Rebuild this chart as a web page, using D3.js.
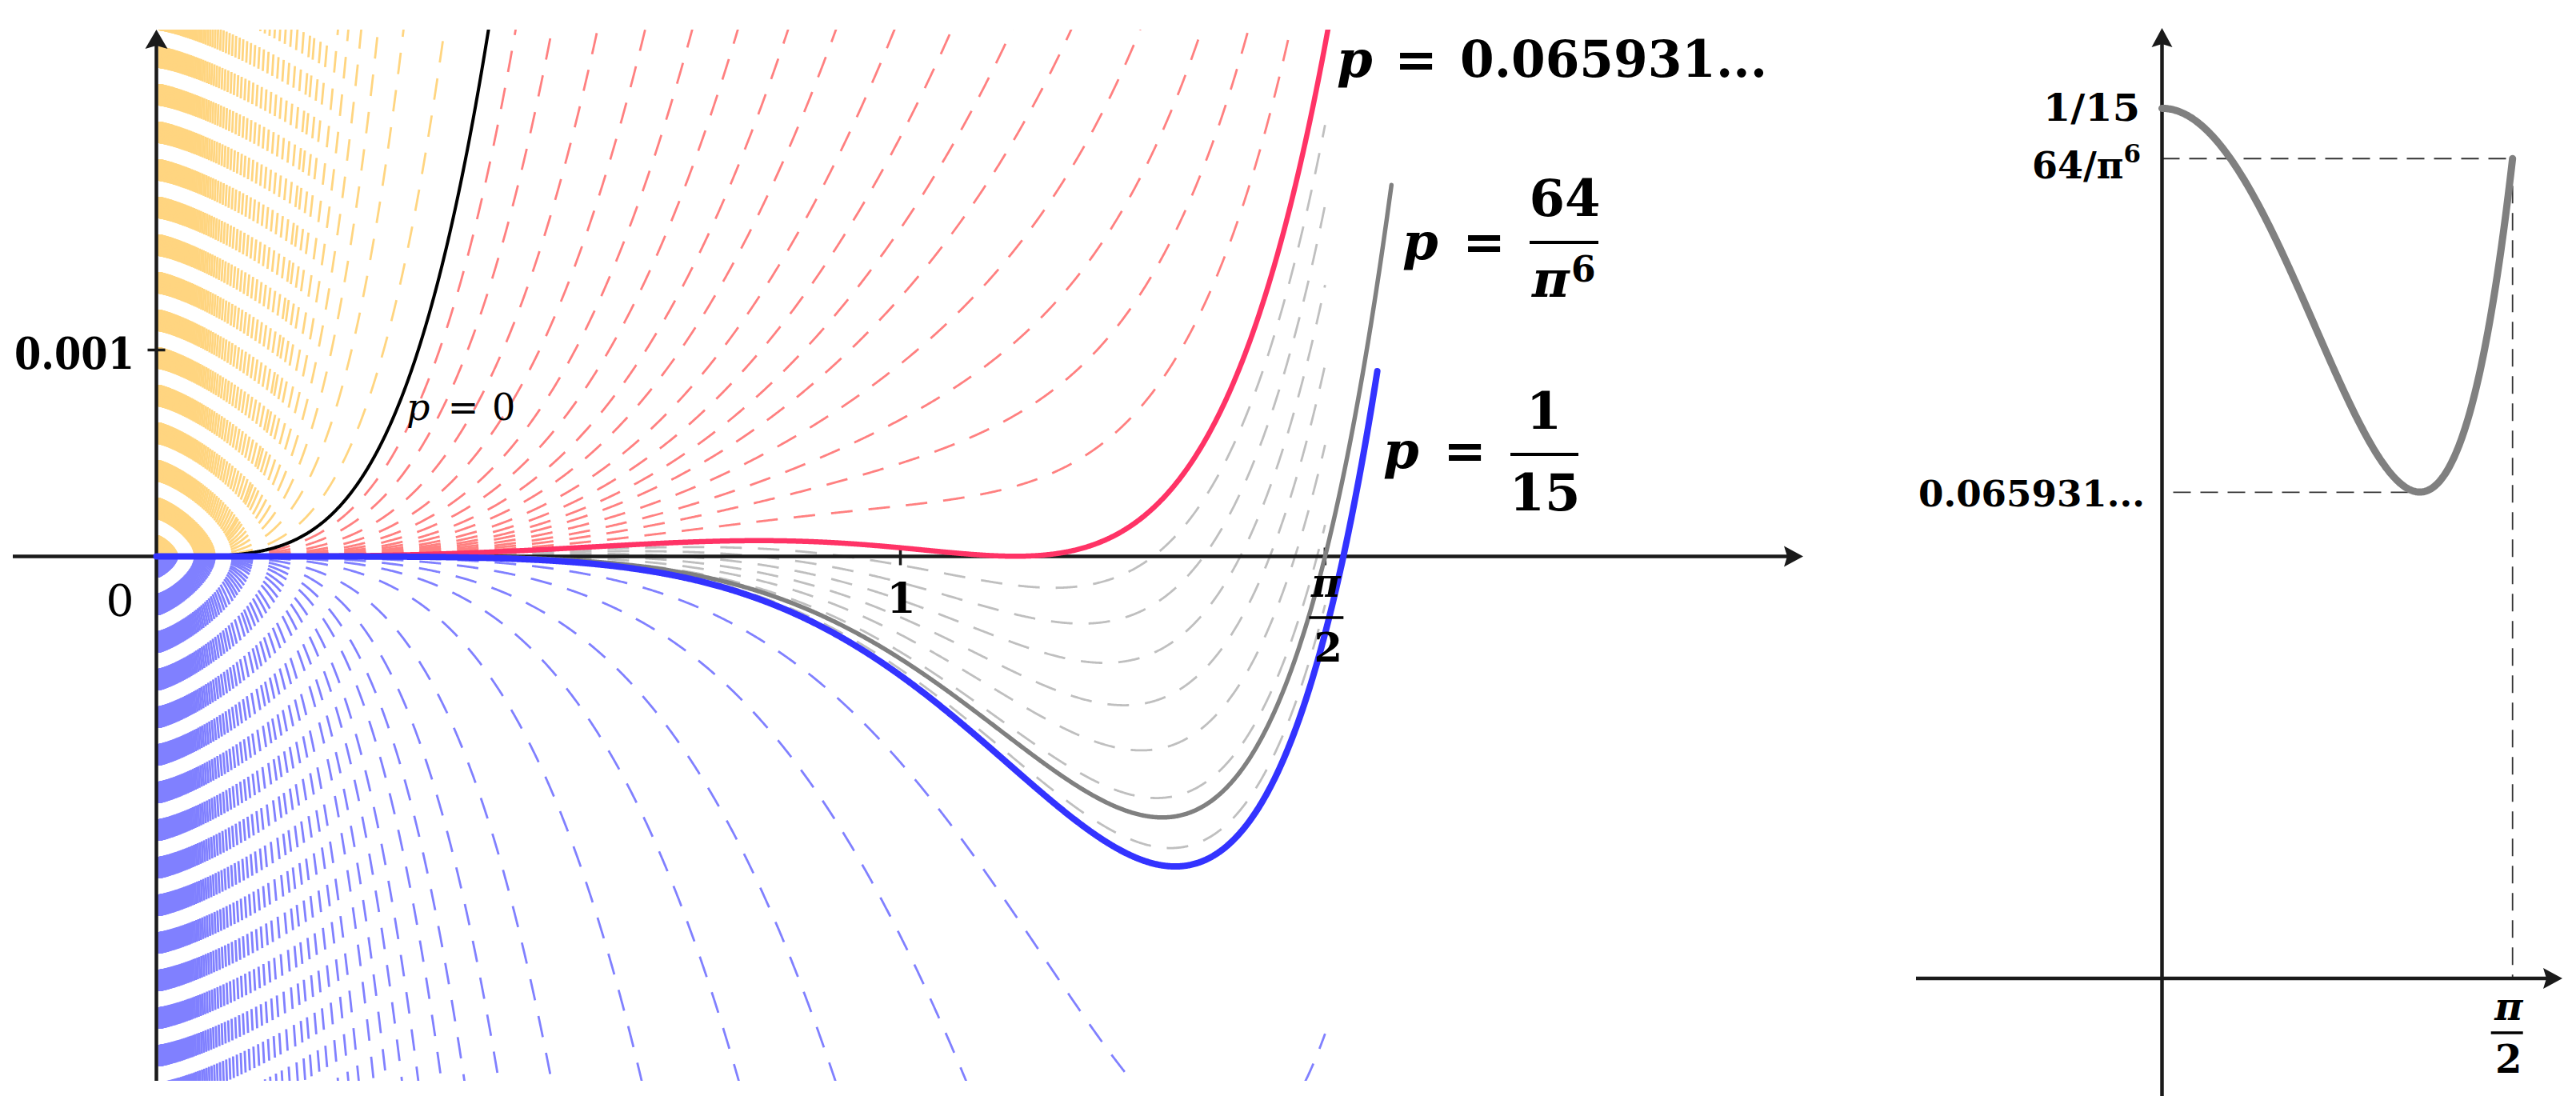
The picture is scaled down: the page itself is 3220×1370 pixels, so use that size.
<!DOCTYPE html>
<html><head><meta charset="utf-8">
<script src="https://cdn.jsdelivr.net/npm/d3@7"></script>
<style>body{margin:0;background:#fff}svg{display:block}</style>
</head><body>
<svg id="c" width="3220" height="1370"></svg>
<script>
// ---------------- data (parameter values p) ----------------
const yellowP = [-0.050,-0.147,-0.262,-0.383,-0.516,-0.660,-0.838,-0.992,-1.18,-1.33,-1.60,-1.92,-2.30,-2.75,-3.28,-3.92,-4.68,-5.58,-6.65,-7.93,-9.45,-11.2,-13.4,-15.9,-19.0,-22.6,-26.9,-32.0,-38.1,-45.4,-54.0,-64.3,-76.6,-91.1,-108,-129,-154,-183,-218,-259,-308,-367,-437,-520,-619,-736,-876,-1040,-1240,-1480,-1760,-2090,-2490,-2960,-3530,-4200,-5000,-5950,-7080,-8420,-10000,-11900,-14200,-16900,-20100,-23900,-28500,-33900,-40300,-48000,-57100,-67900,-80800,-96200,-114000,-136000,-162000,-193000,-229000,-273000,-325000,-387000,-460000,-547000,-651000,-775000,-923000,-1100000,-1310000,-1550000,-1850000,-2200000,-2620000,-3120000,-3710000,-4410000,-5250000,-6250000,-7440000,-8850000,-10500000];
const redP = [0.017614,0.032893,0.044424,0.051535,0.055856,0.058565,0.060540,0.061810,0.062863,0.063565,0.064094,0.064489,0.064873,0.065193,0.065445,0.065690];
const grayP = [0.066031,0.066131,0.066231,0.066331,0.066431,0.066531,0.066631];
const blueP = [0.067167,0.068167,0.070267,0.073667,0.081367,0.0999,0.1252,0.1555,0.1874,0.2355,0.2847,0.3497,0.4207,0.5367,0.6467,0.7907,0.9667,1.160,1.408,1.665,2.028,2.553,3.180,3.847,4.702,5.68,6.87,8.31,10.1,12.2,14.7,17.8,21.6,26.1,31.6,38.2,46.2,55.9,67.6,81.8,99.0,120,145,175,212,256,310,375,454,549,664,804,973,1180,1420,1720,2080,2520,3050,3690,4460,5400,6530,7900,9560,11600,14000,16900,20500,24800,30000,36300,43900,53100,64300,77800,94100,114000,138000,167000,202000,244000,295000,357000,432000,523000,633000,766000,927000,1120000,1360000,1640000,1990000,2400000,2910000,3520000,4260000,5150000,6230000,7540000,9130000,11000000];
const solidP = [0, 0.065931, 64/Math.pow(Math.PI,6), 1/15];
const solidEnd = [Math.PI/2, 1.6, 1.66, 1.641];
const pMin = 0.065931, xMin = 1.158;
const leftXTicks = [1, Math.PI/2];
const leftYTick = 0.001;

// ---------------- helpers ----------------
const svg = d3.select('#c');
const FONT = "'DejaVu Serif', serif";
function F(t){ if(t===0) return 0; if(t<0.01){const t2=t*t; return t2*t2*(1/15-0.0121693*t2);} const s=Math.sin(t)/t; return s*s*s-Math.cos(t); }
function G(t){ return t*t*t*Math.sin(t); }
function fp(t,p){ return F(t)-p*G(t); }
function g(t){ return t===0 ? 1/15 : F(t)/G(t); }

// ---------------- left panel ----------------
const x = d3.scaleLinear().domain([0,1]).range([195.5,1125.5]);
const y = d3.scaleLinear().domain([0,0.001]).range([695.5,437.5]);
const yTop = y.invert(37), yBot = y.invert(1351);

svg.append('defs').append('clipPath').attr('id','clipL')
  .append('rect').attr('x',150).attr('y',37).attr('width',2150).attr('height',1351-37);

function samples(end){
  const xs=[]; const N=1600;
  for(let i=0;i<=N;i++) xs.push(end*i/N);
  for(let i=1;i<=500;i++) xs.push(0.08*Math.pow(i/500,2));
  return Array.from(new Set(xs)).filter(v=>v<=end).sort((a,b)=>a-b);
}
function curvePts(p,end){
  const xs = samples(end); const lim=0.0045;
  let pts = xs.map(t=>[t, Math.max(-lim, Math.min(lim, fp(t,p)))]);
  let last = pts.length-1;
  while(last>0 && (pts[last][1]>yTop || pts[last][1]<yBot)) last--;
  return pts.slice(0, Math.min(pts.length, last+2));
}
const line = d3.line().x(d=>x(d[0])).y(d=>y(d[1]));

const gL = svg.append('g').attr('clip-path','url(#clipL)');
const fam = [[yellowP,'#FFD580'],[redP,'#FF8080'],[grayP,'#BFBFBF'],[blueP,'#8080FF']];
fam.forEach(([arr,col])=>{
  gL.append('g').selectAll('path').data(arr).join('path')
    .attr('d',p=>line(curvePts(p,Math.PI/2)))
    .attr('fill','none').attr('stroke',col).attr('stroke-width',2.8)
    .attr('stroke-dasharray','27 20');
});

// axes (left)
const axCol='#1a1a1a';
const axL = svg.append('g');
axL.append('line').attr('x1',16).attr('x2',2234).attr('y1',y(0)).attr('y2',y(0)).attr('stroke',axCol).attr('stroke-width',4.5);
axL.append('path').attr('d',`M2254,${y(0)} L2230,${y(0)-13} L2234,${y(0)} L2230,${y(0)+13} Z`).attr('fill',axCol);
axL.append('line').attr('x1',x(0)).attr('x2',x(0)).attr('y1',1351).attr('y2',57).attr('stroke',axCol).attr('stroke-width',4.5);
axL.append('path').attr('d',`M${x(0)},37 L${x(0)-14},61 L${x(0)},57 L${x(0)+14},61 Z`).attr('fill',axCol);
leftXTicks.forEach(v=>axL.append('line').attr('x1',x(v)).attr('x2',x(v)).attr('y1',y(0)-11).attr('y2',y(0)+11).attr('stroke',axCol).attr('stroke-width',3.5));
axL.append('line').attr('x1',x(0)-11).attr('x2',x(0)+11).attr('y1',y(leftYTick)).attr('y2',y(leftYTick)).attr('stroke',axCol).attr('stroke-width',3.5);

// solid curves
const solidStyle = [['#000000',4],['#FF3366',6.5],['#808080',5.5],['#3333FF',8]];
const gS = svg.append('g').attr('clip-path','url(#clipL)');
solidP.forEach((p,i)=>{
  gS.append('path').attr('d',line(curvePts(p,solidEnd[i])))
    .attr('fill','none').attr('stroke',solidStyle[i][0]).attr('stroke-width',solidStyle[i][1]).attr('stroke-linecap','round');
});

// ---------------- text helper ----------------
function T(xx,yy,str,size,o={}){
  const t = svg.append('text').attr('x',xx).attr('y',yy).text(str)
    .attr('font-family',FONT).attr('font-size',size)
    .attr('font-weight',o.w||'bold').attr('font-style',o.s||'normal')
    .attr('text-anchor',o.a||'start').attr('fill','#000');
  if(o.len){ t.attr('textLength',o.len).attr('lengthAdjust','spacingAndGlyphs'); }
  return t;
}
function bar(x1,x2,yy,w){ svg.append('line').attr('x1',x1).attr('x2',x2).attr('y1',yy).attr('y2',yy).attr('stroke','#000').attr('stroke-width',w||4); }

// left axis labels
T(168,461,'0.001',54,{a:'end',len:150});
T(150,770,'0',55,{a:'middle',w:'normal'});
T(x(1)+1,766,'1',52,{a:'middle'});
T(x(Math.PI/2)+1,746,'π',50,{a:'middle',s:'italic'});
bar(x(Math.PI/2)-20,x(Math.PI/2)+23,772,3.5);
T(x(Math.PI/2)+4,827,'2',51,{a:'middle'});

// curve labels
T(508,525,'p',46,{w:'normal',s:'italic'});
T(579,525,'=',46,{w:'normal',a:'middle'});
T(615,525,'0',46,{w:'normal'});

T(1671,96,'p',64,{s:'italic'});
T(1770,96,'=',64,{a:'middle'});
T(1825,96,'0.065931...',64,{len:384});

T(1753,324,'p',64,{s:'italic'});
T(1855,324,'=',64,{a:'middle'});
T(1956,270,'64',64,{a:'middle'});
bar(1912,1998,303,4);
T(1915,371,'π',64,{s:'italic'});
T(1964,352,'6',44,{});

T(1729,585,'p',64,{s:'italic'});
T(1831,585,'=',64,{a:'middle'});
T(1930,536,'1',64,{a:'middle'});
bar(1888,1973,568,4);
T(1931,638,'15',64,{a:'middle'});

// ---------------- right panel ----------------
const xr = d3.scaleLinear().domain([0,Math.PI/2]).range([2702.5,3140.7]);
const yr = d3.scaleLinear().domain([0.065,1/15]).range([1223,135.4]);
const pG = solidP[2];
const dashAttr = s=>s.attr('stroke','#333').attr('stroke-width',1.8).attr('stroke-dasharray','22 12').attr('fill','none');
dashAttr(svg.append('line').attr('x1',xr(0)).attr('x2',xr(Math.PI/2)).attr('y1',yr(pG)).attr('y2',yr(pG)));
dashAttr(svg.append('line').attr('x1',xr(0)+14).attr('x2',xr(xMin)).attr('y1',yr(pMin)).attr('y2',yr(pMin)));
dashAttr(svg.append('line').attr('x1',xr(Math.PI/2)).attr('x2',xr(Math.PI/2)).attr('y1',yr(pG)).attr('y2',yr(0.065)));

svg.append('line').attr('x1',2395).attr('x2',3183).attr('y1',yr(0.065)).attr('y2',yr(0.065)).attr('stroke',axCol).attr('stroke-width',4.5);
svg.append('path').attr('d',`M3203,${yr(0.065)} L3179,${yr(0.065)-13} L3183,${yr(0.065)} L3179,${yr(0.065)+13} Z`).attr('fill',axCol);
svg.append('line').attr('x1',xr(0)).attr('x2',xr(0)).attr('y1',1370).attr('y2',55).attr('stroke',axCol).attr('stroke-width',4.5);
svg.append('path').attr('d',`M${xr(0)},35 L${xr(0)-13},59 L${xr(0)},55 L${xr(0)+13},59 Z`).attr('fill',axCol);

const gx = d3.range(0,401).map(i=>Math.PI/2*i/400);
svg.append('path').attr('d',d3.line().x(t=>xr(t)).y(t=>yr(g(t)))(gx))
  .attr('fill','none').attr('stroke','#808080').attr('stroke-width',9).attr('stroke-linecap','round');

T(2675,151,'1/15',46,{a:'end',len:121});
const t64 = T(2676,223,'64/π',46,{a:'end'});
t64.append('tspan').attr('dy',-20).attr('font-size',31).text('6');
T(2681,633,'0.065931...',45,{a:'end',len:283});
T(xr(Math.PI/2)-5,1275,'π',48,{a:'middle',s:'italic'});
bar(xr(Math.PI/2)-27,xr(Math.PI/2)+13,1291,3.5);
T(xr(Math.PI/2)-5,1341,'2',48,{a:'middle'});
</script>
</body></html>
